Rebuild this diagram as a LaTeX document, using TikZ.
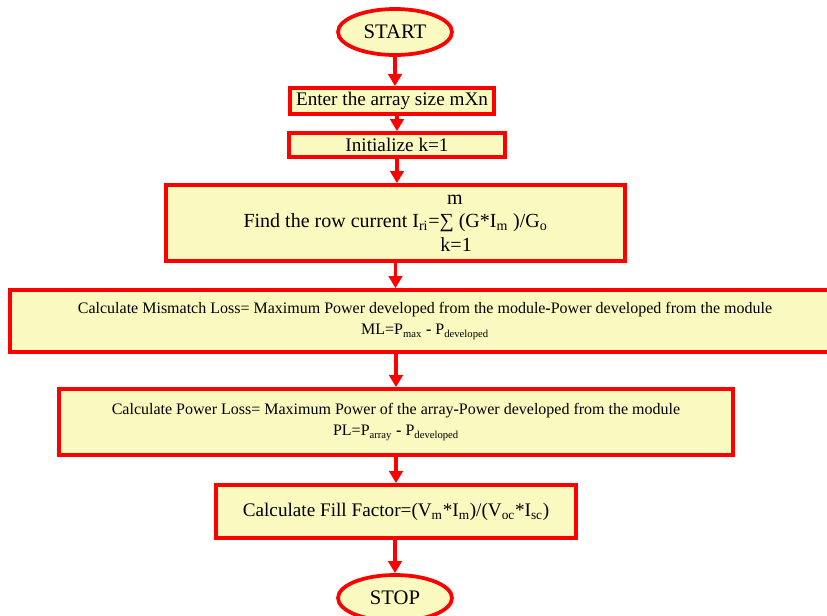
\documentclass[tikz,border=0pt]{standalone}
\usepackage{fontspec}
\setmainfont{Liberation Serif}
\usetikzlibrary{shapes.geometric,arrows.meta}
\definecolor{boxfill}{RGB}{250,250,192}
\tikzset{
  flowbox/.style={rectangle, draw=red, fill=boxfill, line width=2.8pt, inner sep=0pt, align=center},
  endbox/.style={ellipse, draw=red, fill=boxfill, line width=2.8pt, inner sep=0pt},
  flowarrow/.style={draw=red, line width=2.8pt, -{Triangle[length=9pt,width=10pt]}},
  bigtext/.style={font=\fontsize{14.4}{17}\selectfont},
  findtext/.style={font=\fontsize{15}{17}\selectfont},
  endtext/.style={font=\fontsize{15.5}{18}\selectfont},
  smalltext/.style={font=\fontsize{12}{16}\selectfont}
}
\begin{document}
\begin{tikzpicture}[x=0.75pt,y=-0.75pt]
  \useasboundingbox (0,0) rectangle (827,615);
  % Nodes
  \node (start) at (395,32) [endbox, endtext, minimum width=85.5pt, minimum height=34.5pt] {START};
  \node (enter) at (392,101) [flowbox, bigtext, minimum width=153pt, minimum height=19.5pt] {Enter the array size mXn};
  \node (init) at (397,145) [flowbox, bigtext, minimum width=162pt, minimum height=18pt] {Initialize k=1};
  \node (find) at (395.5,223) [flowbox, findtext, minimum width=344.25pt, minimum height=57pt]
    {Find the row current I\textsubscript{ri}=∑\rlap{\hspace{-5pt}\raisebox{17.5pt}{m}}\rlap{\hspace{-10pt}\raisebox{-17.5pt}{k=1}} (G*I\textsubscript{m} )/G\textsubscript{o}};
  \node (ml) at (425,321) [flowbox, smalltext, minimum width=622.5pt, minimum height=46.5pt]
    {Calculate Mismatch Loss= Maximum Power developed from the module\textbf{-}Power developed from the module\\
     ML=P\textsubscript{max} \textbf{-} P\textsubscript{developed}};
  \node (pl) at (396,422) [flowbox, smalltext, minimum width=505.5pt, minimum height=49.5pt]
    {Calculate Power Loss= Maximum Power of the array\textbf{-}Power developed from the module\\
     PL=P\textsubscript{array} \textbf{-} P\textsubscript{developed}};
  \node (ff) at (396,511.5) [flowbox, bigtext, minimum width=270pt, minimum height=39.75pt]
    {Calculate Fill Factor=(V\textsubscript{m}*I\textsubscript{m})/(V\textsubscript{oc}*I\textsubscript{sc})};
  \node (stop) at (395,598) [endbox, endtext, minimum width=85.5pt, minimum height=34.5pt] {STOP};

  % Edges
  \draw[flowarrow] (start.south) -- (start.south |- enter.north);
  \draw[flowarrow] (enter.south -| init.north) -- (init.north);
  \draw[flowarrow] (init.south) -- (init.south |- find.north);
  \draw[flowarrow] (find.south) -- (find.south |- ml.north);
  \draw[flowarrow] (ml.south -| pl.north) -- (pl.north);
  \draw[flowarrow] (pl.south) -- (ff.north);
  \draw[flowarrow] (ff.south -| stop.north) -- (stop.north);
\end{tikzpicture}
\end{document}
